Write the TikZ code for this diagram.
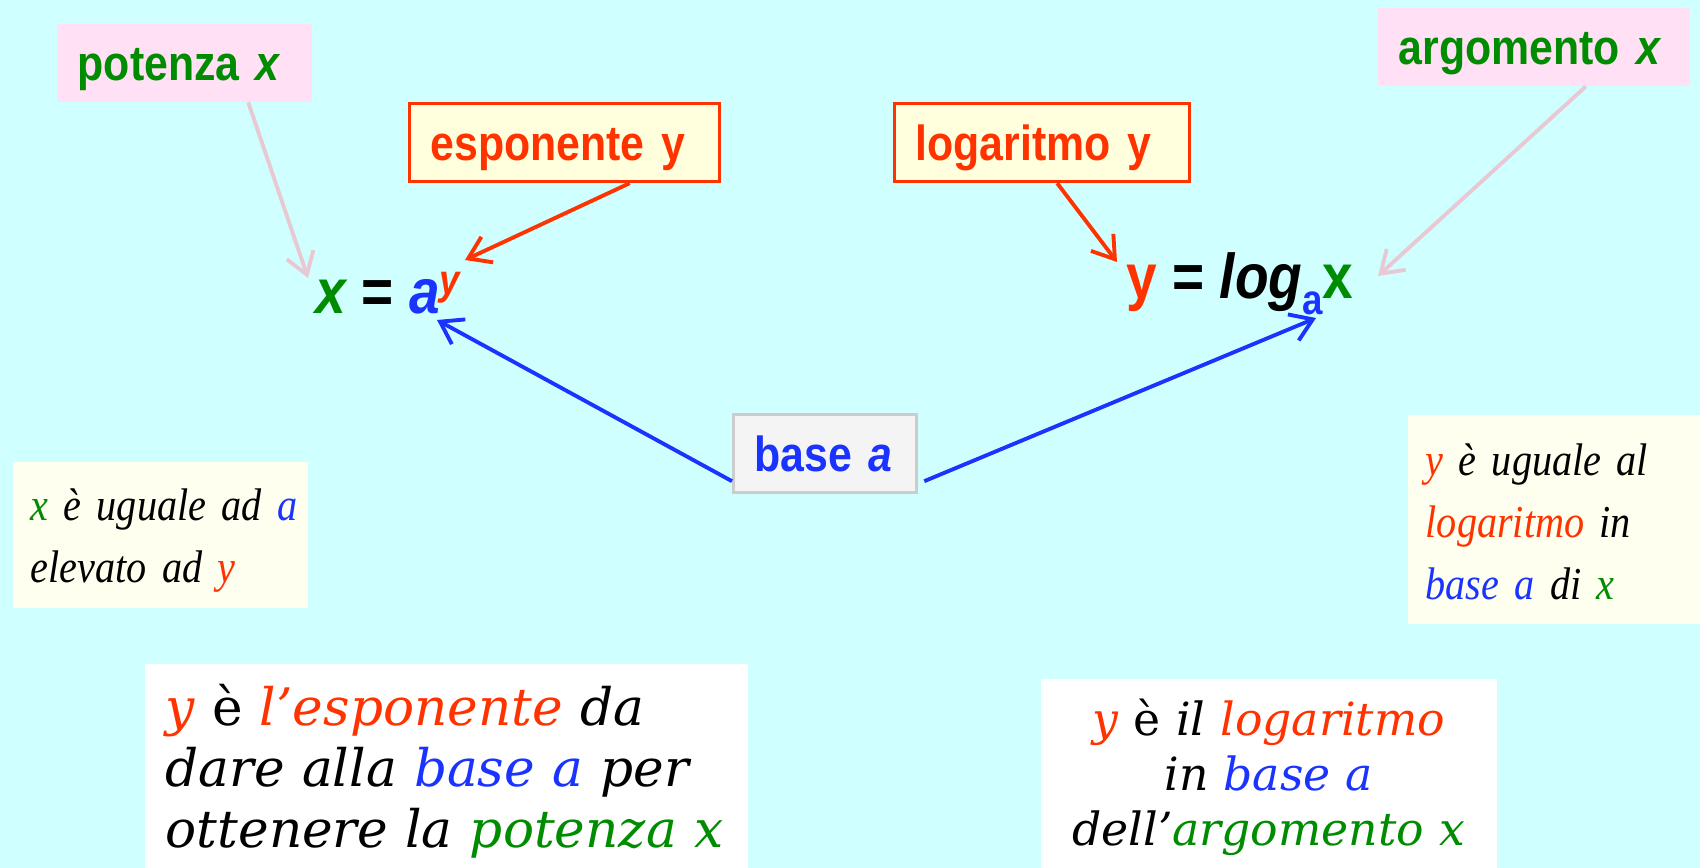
\documentclass[tikz,border=0pt]{standalone}
\usepackage{fontspec}
\setsansfont{Liberation Sans}[FakeStretch=0.87]
\newfontfamily\notefont{Liberation Serif}[FakeStretch=0.88]
\newfontfamily\phrasefont{DejaVu Serif}
\usepackage{xcolor}
\usetikzlibrary{positioning,arrows.meta,calc}
\definecolor{bgcyan}{RGB}{208,255,255}
\definecolor{pinkbox}{RGB}{255,224,244}
\definecolor{creambox}{RGB}{255,255,221}
\definecolor{ivorybox}{RGB}{255,255,240}
\definecolor{greybox}{RGB}{244,244,244}
\definecolor{greyline}{RGB}{204,204,204}
\definecolor{pinkline}{RGB}{232,200,210}
\definecolor{tgreen}{RGB}{0,140,0}
\definecolor{tred}{RGB}{255,51,0}
\definecolor{tblue}{RGB}{26,51,255}
\newcommand{\inred}[1]{\textcolor{tred}{#1}}
\newcommand{\inblue}[1]{\textcolor{tblue}{#1}}
\newcommand{\ingreen}[1]{\textcolor{tgreen}{#1}}

\begin{document}
\begin{tikzpicture}[x=0.01cm, y=-0.01cm,
  lbl/.style={anchor=north west, font=\sffamily\bfseries\fontsize{14}{16}\selectfont,
              inner xsep=0.21cm, inner ysep=0pt, minimum height=0.78cm,
              text height=0.35cm, text depth=0pt, align=left},
  pinklbl/.style={lbl, fill=pinkbox, text=tgreen},
  redlbl/.style={lbl, fill=creambox, draw=tred, line width=0.9pt, text=tred},
  baselbl/.style={lbl, fill=greybox, draw=greyline, line width=0.9pt, text=tblue},
  formula/.style={anchor=base, inner sep=0pt, font=\sffamily\bfseries\fontsize{18}{22}\selectfont},
  note/.style={anchor=north west, fill=ivorybox, inner xsep=0.18cm, inner ysep=0pt,
               align=left, font=\notefont\itshape\fontsize{13}{17.6}\selectfont},
  phrase/.style={anchor=north west, fill=white, inner ysep=0pt, font=\phrasefont\itshape},
  arr/.style={-{Straight Barb[length=6pt,width=8pt]}, line width=1.1pt},
]
\useasboundingbox (0,0) rectangle (1700,868);
\fill[bgcyan] (0,0) rectangle (1700,868);

% labels
\node[pinklbl, text width=2.13cm] (potenza)   at (56,23)   {potenza \textit{x}};
\node[redlbl,  text width=2.68cm] (esponente) at (408,102) {esponente y};
\node[redlbl,  text width=2.53cm] (logaritmo) at (893,102) {logaritmo y};
\node[pinklbl, text width=2.70cm] (argomento) at (1377,7)  {argomento \textit{x}};
\node[baselbl, text width=1.41cm] (basea)     at (732,413) {base \textit{a}};

% the two formulas
\node[formula] (potform) at (388,314)
  {\ingreen{\itshape x} = \inblue{\itshape a}\raisebox{5.4pt}{\fontsize{12}{14}\selectfont\inred{\itshape y}}};
\node[formula] (logform) at (1240,299)
  {\inred{y} = {\itshape log}\raisebox{-4.3pt}{\fontsize{12}{14}\selectfont\inblue{a}}\ingreen{x}};

% arrow ends on the formulas
\coordinate (xpot) at (308,278);
\coordinate (yexp) at (465,260);
\coordinate (ylog) at (1117,262);
\coordinate (xarg) at (1378,276);
\coordinate (apow) at (437,320);
\coordinate (asub) at (1316,318);

\draw[arr, pinkline] ($(potenza.south)+(64,0)$) -- (xpot);
\draw[arr, tred] ($(esponente.south)+(65,0)$) -- (yexp);
\draw[arr, tred] ($(logaritmo.south)+(15,0)$) -- (ylog);
\draw[arr, pinkline] ($(argomento.south)+(52,0)$) -- (xarg);
\draw[arr, tblue] ($(basea.south west)+(0,-13)$) -- (apow);
\draw[arr, tblue] ($(basea.south east)+(6,-13)$) -- (asub);

% short readings
\node[note, text width=2.59cm, text height=0.59cm, text depth=0.87cm] (potnote) at (12,461)
  {\mbox{\ingreen{x} è uguale ad \inblue{a}}\\ \mbox{elevato ad \inred{y}}};
\node[note, text width=2.57cm, text height=0.61cm, text depth=1.48cm] (lognote) at (1407,414)
  {\inred{y} è uguale al\\ \inred{logaritmo} in\\ \inblue{base a} di \ingreen{x}};

% long readings
\node[phrase, inner xsep=0.21cm, text width=5.61cm, align=left, text height=0.62cm, text depth=1.43cm,
      font=\phrasefont\itshape\fontsize{14.7}{17.35}\selectfont] (potphrase) at (144,663)
  {\mbox{\inred{y} {\upshape è} \inred{l’esponente} da}\\
   \mbox{dare alla \inblue{base a} per}\\
   \mbox{ottenere la \ingreen{potenza x}}};
\node[phrase, inner xsep=0pt, text width=4.56cm, align=center, text height=0.57cm, text depth=1.33cm,
      font=\phrasefont\itshape\fontsize{13}{15.65}\selectfont] (logphrase) at (1040,678)
  {\inred{y} {\upshape è} il \inred{logaritmo}\\
   in \inblue{base a}\\
   dell’\ingreen{argomento x}};
\end{tikzpicture}
\end{document}
